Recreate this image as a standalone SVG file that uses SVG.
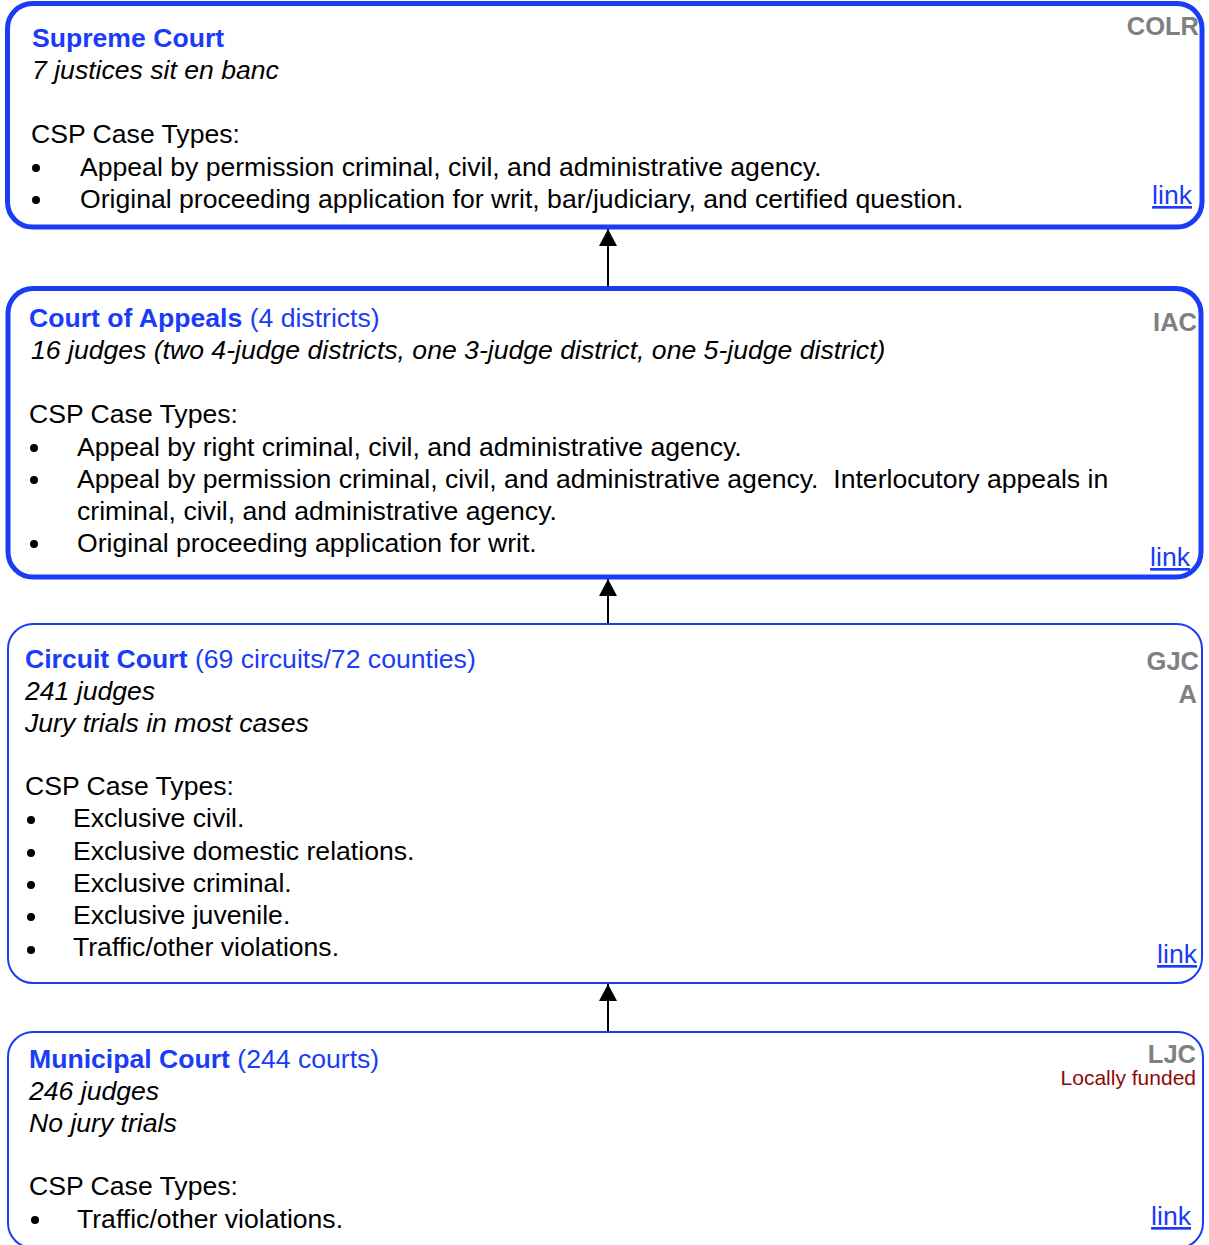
<svg xmlns="http://www.w3.org/2000/svg" width="1209" height="1245" viewBox="0 0 1209 1245">
<style>
text{font-family:"Liberation Sans",Arial,sans-serif;font-size:26.6px;fill:#000;white-space:pre}
.box{fill:#fff;stroke:#1a3cf5}
.thick{stroke-width:5}
.thin{stroke-width:2}
.t{fill:#1a3cf5}
.b{font-weight:bold}
.i{font-style:italic}
.lvl{fill:#808080;font-weight:bold;text-anchor:end;font-size:25.5px}
.lnk{fill:#1a3cf5;text-decoration:underline;text-anchor:end}
.fund{fill:#8b0a0a;font-size:21px;text-anchor:end}
.conn{stroke:#000;stroke-width:2;fill:none}
</style>
<defs>
<marker id="ah" markerUnits="userSpaceOnUse" markerWidth="18" markerHeight="18" refX="17" refY="9" orient="auto">
<path d="M0,0 L17,9 L0,18 Z" fill="#000"/>
</marker>
</defs>
<g id="connectors">
<line class="conn" x1="608" y1="288" x2="608" y2="229" marker-end="url(#ah)"/>
<line class="conn" x1="608" y1="624" x2="608" y2="579" marker-end="url(#ah)"/>
<line class="conn" x1="608" y1="1032" x2="608" y2="984" marker-end="url(#ah)"/>
</g>
<g id="supreme-court">
<rect class="box thick" x="7.5" y="3.5" width="1194.5" height="223.5" rx="25"/>
<text x="32" y="47" class="t b">Supreme Court</text>
<text x="32" y="79" class="i">7 justices sit en banc</text>
<text x="31" y="143">CSP Case Types:</text>
<circle cx="36" cy="168" r="4"/>
<text x="80" y="176">Appeal by permission criminal, civil, and administrative agency.</text>
<circle cx="36" cy="200" r="4"/>
<text x="80" y="208">Original proceeding application for writ, bar/judiciary, and certified question.</text>
<text x="1199" y="35" class="lvl">COLR</text>
<text x="1192" y="204" class="lnk">link</text>
</g>
<g id="court-of-appeals">
<rect class="box thick" x="8" y="288.5" width="1193" height="288.5" rx="25"/>
<text x="29" y="327" class="t"><tspan class="b">Court of Appeals</tspan> (4 districts)</text>
<text x="31" y="359" class="i">16 judges (two 4-judge districts, one 3-judge district, one 5-judge district)</text>
<text x="29" y="423">CSP Case Types:</text>
<circle cx="34" cy="448" r="4"/>
<text x="77" y="456">Appeal by right criminal, civil, and administrative agency.</text>
<circle cx="34" cy="480" r="4"/>
<text x="77" y="488">Appeal by permission criminal, civil, and administrative agency.  Interlocutory appeals in</text>
<text x="77" y="520">criminal, civil, and administrative agency.</text>
<circle cx="34" cy="544" r="4"/>
<text x="77" y="552">Original proceeding application for writ.</text>
<text x="1197" y="331" class="lvl">IAC</text>
<text x="1190" y="566" class="lnk">link</text>
</g>
<g id="circuit-court">
<rect class="box thin" x="8" y="624" width="1194" height="359" rx="25"/>
<text x="25" y="668" class="t"><tspan class="b">Circuit Court</tspan> (69 circuits/72 counties)</text>
<text x="25" y="700" class="i">241 judges</text>
<text x="25" y="732" class="i">Jury trials in most cases</text>
<text x="25" y="795">CSP Case Types:</text>
<circle cx="31" cy="820" r="4"/>
<text x="73" y="827">Exclusive civil.</text>
<circle cx="31" cy="853" r="4"/>
<text x="73" y="860">Exclusive domestic relations.</text>
<circle cx="31" cy="885" r="4"/>
<text x="73" y="892">Exclusive criminal.</text>
<circle cx="31" cy="917" r="4"/>
<text x="73" y="924">Exclusive juvenile.</text>
<circle cx="31" cy="950" r="4"/>
<text x="73" y="956">Traffic/other violations.</text>
<text x="1199" y="670" class="lvl">GJC</text>
<text x="1197" y="703" class="lvl">A</text>
<text x="1197" y="963" class="lnk">link</text>
</g>
<g id="municipal-court">
<rect class="box thin" x="8" y="1032" width="1195" height="216" rx="25"/>
<text x="29" y="1068" class="t"><tspan class="b">Municipal Court</tspan> (244 courts)</text>
<text x="29" y="1100" class="i">246 judges</text>
<text x="29" y="1132" class="i">No jury trials</text>
<text x="29" y="1195">CSP Case Types:</text>
<circle cx="35" cy="1220" r="4"/>
<text x="77" y="1228">Traffic/other violations.</text>
<text x="1196" y="1063" class="lvl">LJC</text>
<text x="1196" y="1085" class="fund">Locally funded</text>
<text x="1191" y="1225" class="lnk">link</text>
</g>
</svg>
